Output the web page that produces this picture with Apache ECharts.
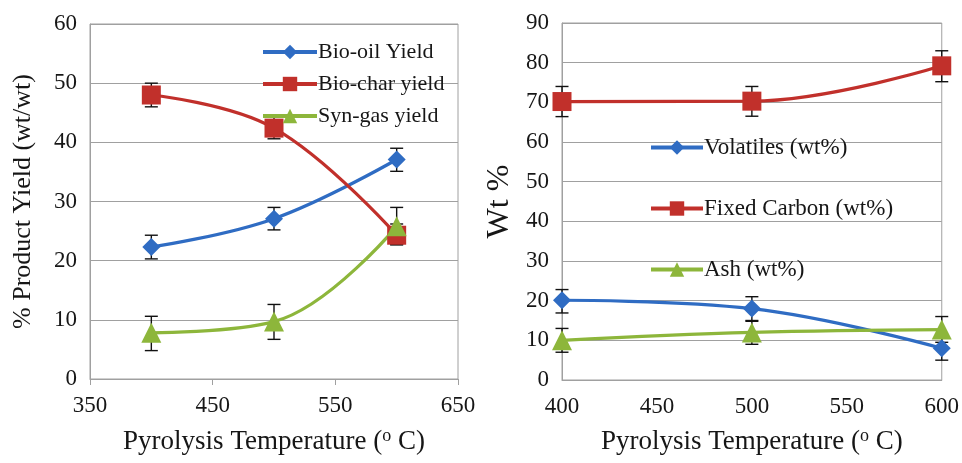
<!DOCTYPE html>
<html>
<head>
<meta charset="utf-8">
<script src="https://cdn.jsdelivr.net/npm/echarts@6/dist/echarts.min.js"></script>
<style>
  html, body { margin: 0; padding: 0; background: #fff; }
  #chart { width: 962px; height: 463px; }
</style>
</head>
<body>
<div id="chart"></div>
<script>
// Pyrolysis temperatures (deg C)
const temps = [400, 500, 600];

// Left panel: product yields (% wt/wt) with error bar bounds
const bioOil = [22.3, 27.1, 37.1];
const bioOilLow = [20.3, 25.2, 35.1];
const bioOilHigh = [24.3, 29.0, 39.0];

const bioChar = [48.0, 42.4, 24.3];
const bioCharLow = [46.0, 40.6, 22.7];
const bioCharHigh = [50.0, 44.3, 26.2];

const synGas = [7.8, 9.7, 25.8];
const synGasLow = [4.8, 6.7, 22.7];
const synGasHigh = [10.6, 12.6, 29.0];

// Right panel: char composition (wt %) with error bar bounds
const volatiles = [20.1, 18.0, 8.0];
const volatilesLow = [16.9, 14.8, 5.0];
const volatilesHigh = [22.8, 21.0, 11.0];

const fixedCarbon = [70.2, 70.3, 79.2];
const fixedCarbonLow = [66.4, 66.5, 75.2];
const fixedCarbonHigh = [74.0, 74.0, 83.0];

const ash = [10.0, 12.0, 12.7];
const ashLow = [7.0, 9.0, 9.5];
const ashHigh = [13.0, 15.0, 16.0];

const FONT = '"Liberation Serif", "DejaVu Serif", serif';
const TEXT = '#161616';
const BLUE = '#2f6cc3';
const RED = '#c1302b';
const GREEN = '#8db63b';
const GRID_LINE = '#a0a0a0';

const chart = echarts.init(document.getElementById('chart'));

const pairs = (ys) => temps.map((t, i) => [t, ys[i]]);
const bounds = (lo, hi) => temps.map((t, i) => [t, lo[i], hi[i]]);

// error bar: vertical stroke with caps
function errorBar(params, api) {
  const top = api.coord([api.value(0), api.value(2)]);
  const bot = api.coord([api.value(0), api.value(1)]);
  const w = 6.5;
  const style = { stroke: '#111', lineWidth: 1.4 };
  return {
    type: 'group',
    children: [
      { type: 'line', shape: { x1: top[0], y1: top[1], x2: bot[0], y2: bot[1] }, style },
      { type: 'line', shape: { x1: top[0] - w, y1: top[1], x2: top[0] + w, y2: top[1] }, style },
      { type: 'line', shape: { x1: bot[0] - w, y1: bot[1], x2: bot[0] + w, y2: bot[1] }, style }
    ]
  };
}

function lineSeries(name, data, color, symbol, size, idx) {
  return {
    name,
    type: 'line',
    xAxisIndex: idx,
    yAxisIndex: idx,
    data: pairs(data),
    smooth: 0.4,
    symbol,
    symbolSize: size,
    z: 3,
    lineStyle: { color, width: 3.2 },
    itemStyle: { color },
    emphasis: { disabled: true }
  };
}

function errSeries(lo, hi, idx) {
  return {
    type: 'custom',
    xAxisIndex: idx,
    yAxisIndex: idx,
    renderItem: errorBar,
    data: bounds(lo, hi),
    z: 2,
    silent: true
  };
}

const xName = 'Pyrolysis Temperature ({sup|o} C)';
const xNameStyle = {
  fontFamily: FONT,
  fontSize: 27,
  color: TEXT,
  rich: { sup: { fontFamily: FONT, fontSize: 18, color: TEXT, padding: [0, 0, 11, 0] } }
};
const tickLabel = { fontFamily: FONT, fontSize: 23, color: TEXT };

const option = {
  backgroundColor: '#fff',
  animation: false,
  grid: [
    { left: 90, right: 504, top: 24, bottom: 84, show: true, borderColor: GRID_LINE, borderWidth: 1 },
    { left: 562, right: 19, top: 23, bottom: 83, show: true, borderColor: GRID_LINE, borderWidth: 1 }
  ],
  legend: [
    {
      data: ['Bio-oil Yield', 'Bio-char yield', 'Syn-gas yield'],
      orient: 'vertical',
      left: 256,
      top: 36,
      itemWidth: 54,
      itemHeight: 18,
      itemGap: 10,
      lineStyle: { width: 4 },
      textStyle: { fontFamily: FONT, fontSize: 22, color: TEXT, padding: [0, 0, 0, -4] }
    },
    {
      data: ['Volatiles (wt%)', 'Fixed Carbon (wt%)', 'Ash (wt%)'],
      orient: 'vertical',
      left: 644,
      top: 131,
      itemWidth: 52,
      itemHeight: 18,
      itemGap: 38,
      lineStyle: { width: 4 },
      textStyle: { fontFamily: FONT, fontSize: 23, color: TEXT, padding: [0, 0, 0, -4] }
    }
  ],
  xAxis: [
    {
      type: 'value', gridIndex: 0, min: 350, max: 650, interval: 100,
      name: xName, nameLocation: 'middle', nameGap: 48, nameTextStyle: xNameStyle,
      axisLine: { lineStyle: { color: GRID_LINE } },
      axisTick: { show: true, length: 6, lineStyle: { color: GRID_LINE } },
      axisLabel: Object.assign({ margin: 15 }, tickLabel),
      splitLine: { show: false }
    },
    {
      type: 'value', gridIndex: 1, min: 400, max: 600, interval: 50,
      name: xName, nameLocation: 'middle', nameGap: 47, nameTextStyle: xNameStyle,
      axisLine: { lineStyle: { color: GRID_LINE } },
      axisTick: { show: false },
      axisLabel: Object.assign({ margin: 15 }, tickLabel),
      splitLine: { show: false }
    }
  ],
  yAxis: [
    {
      type: 'value', gridIndex: 0, min: 0, max: 60, interval: 10,
      name: '% Product Yield (wt/wt)', nameLocation: 'middle', nameGap: 54,
      nameTextStyle: { fontFamily: FONT, fontSize: 26, color: TEXT },
      axisLine: { show: true, lineStyle: { color: GRID_LINE } },
      axisTick: { show: false },
      axisLabel: Object.assign({ margin: 13 }, tickLabel),
      splitLine: { lineStyle: { color: GRID_LINE } }
    },
    {
      type: 'value', gridIndex: 1, min: 0, max: 90, interval: 10,
      name: 'Wt %', nameLocation: 'middle', nameGap: 46,
      nameTextStyle: { fontFamily: FONT, fontSize: 32, color: TEXT },
      axisLine: { show: true, lineStyle: { color: GRID_LINE } },
      axisTick: { show: false },
      axisLabel: Object.assign({ margin: 13 }, tickLabel),
      splitLine: { lineStyle: { color: GRID_LINE } }
    }
  ],
  series: [
    errSeries(bioOilLow, bioOilHigh, 0),
    errSeries(bioCharLow, bioCharHigh, 0),
    errSeries(synGasLow, synGasHigh, 0),
    lineSeries('Bio-oil Yield', bioOil, BLUE, 'diamond', 18, 0),
    lineSeries('Bio-char yield', bioChar, RED, 'rect', 19, 0),
    lineSeries('Syn-gas yield', synGas, GREEN, 'triangle', 20, 0),
    errSeries(volatilesLow, volatilesHigh, 1),
    errSeries(fixedCarbonLow, fixedCarbonHigh, 1),
    errSeries(ashLow, ashHigh, 1),
    lineSeries('Volatiles (wt%)', volatiles, BLUE, 'diamond', 18, 1),
    lineSeries('Fixed Carbon (wt%)', fixedCarbon, RED, 'rect', 19, 1),
    lineSeries('Ash (wt%)', ash, GREEN, 'triangle', 20, 1)
  ]
};

chart.setOption(option);
</script>
</body>
</html>
